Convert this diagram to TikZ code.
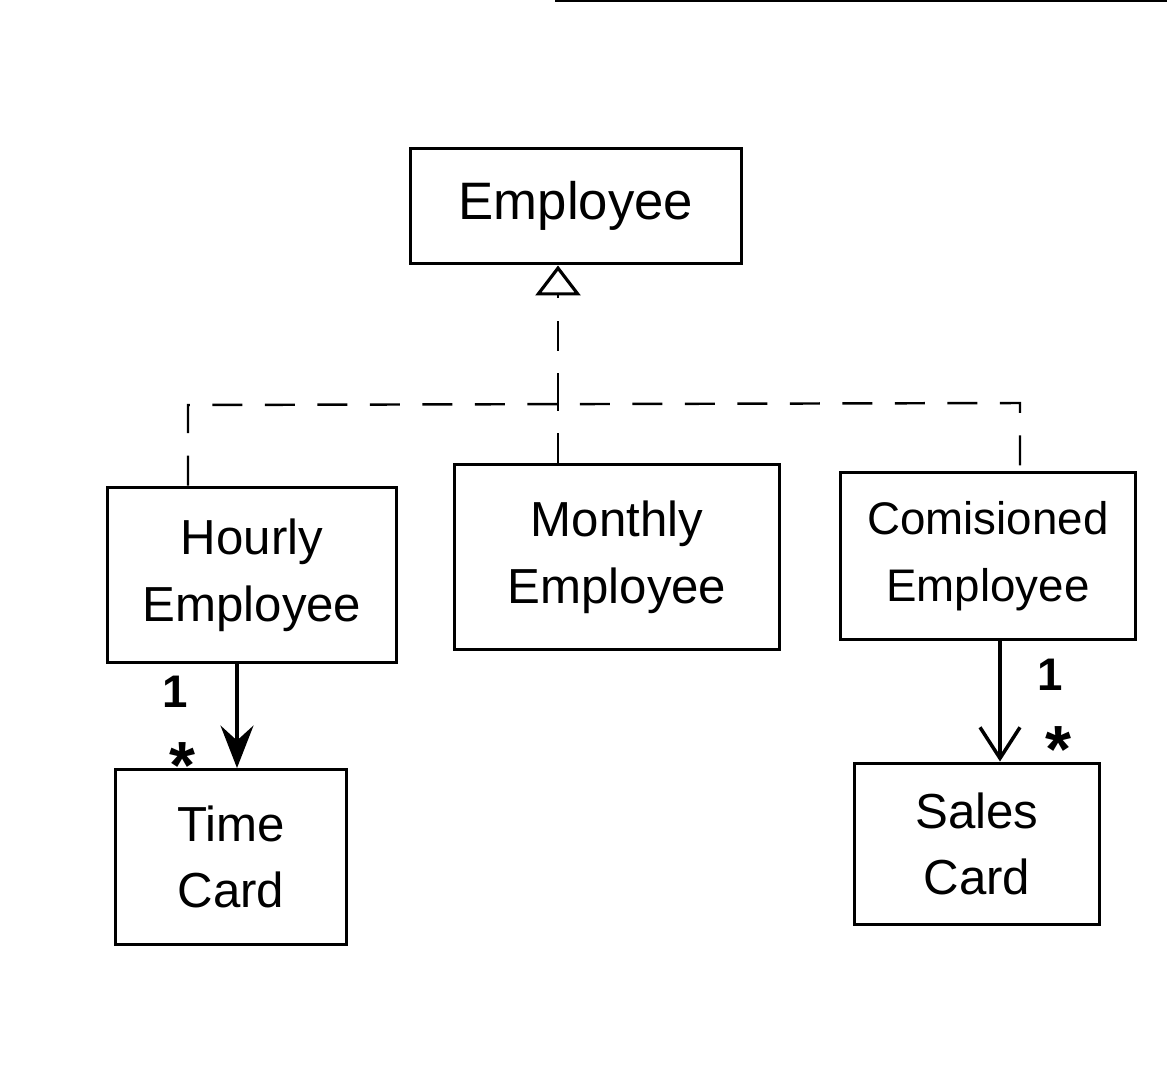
\documentclass[tikz,border=0pt]{standalone}
\usepackage{fontspec}
\setmainfont{Liberation Sans}
\usetikzlibrary{arrows.meta}
\begin{document}
\begin{tikzpicture}[x=0.02cm,y=-0.02cm,
  cls/.style={draw, line width=1.7pt, inner sep=0pt, align=center, font=\fontsize{28}{38}\selectfont},
  gen/.style={line width=1.4pt, dash pattern=on 0.6cm off 0.45cm},
  assoc/.style={line width=1.8pt},
  mult/.style={font=\fontsize{26}{26}\selectfont\bfseries},
  star/.style={font=\fontsize{38}{38}\selectfont\bfseries}
]
\useasboundingbox (0,0) rectangle (1167,1074);
\coordinate (t1) at (555,1);
\coordinate (t2) at (1167,1);
\draw[line width=1.2pt] (t1) -- (t2);

\node[cls, minimum width=6.64cm, minimum height=2.32cm, font=\fontsize{30}{38}\selectfont] (emp) at (576,206) {Employee};
\node[cls, minimum width=5.8cm, minimum height=3.52cm] (hourly) at (252,575) {Hourly\\Employee};
\node[cls, minimum width=6.5cm, minimum height=3.7cm] (monthly) at (617,557) {Monthly\\Employee};
\node[cls, minimum width=5.92cm, minimum height=3.36cm, font=\fontsize{26}{38}\selectfont] (com) at (988,556) {Comisioned\\Employee};
\node[cls, minimum width=4.64cm, minimum height=3.5cm] (time) at (231,857) {Time\\Card};
\node[cls, minimum width=4.9cm, minimum height=3.24cm] (sales) at (977,844) {Sales\\Card};

\coordinate (j) at (558,403);
\coordinate (L) at (188,405);
\coordinate (R) at (1020,403);
\draw[gen] (hourly.north -| L) -- (L) -- (R) -- (com.north -| R);
\draw[gen] (monthly.north -| j) -- (j);
\draw[gen, -{Triangle[open, width=0.9cm, length=0.6cm, line width=1.8pt]}] (j) -- (j |- emp.south);

\coordinate (a1) at (237,0);
\coordinate (a2) at (1000,0);
\draw[assoc, -{Stealth[length=0.85cm, width=0.66cm, inset=0.3cm]}] (hourly.south -| a1) -- (time.north -| a1);
\draw[assoc, -{Straight Barb[length=0.62cm, width=0.8cm, line width=2pt]}] (com.south -| a2) -- (sales.north -| a2);

\node[mult] (m1) at (175,692) {1};
\node[star] (s1) at (182,766) {*};
\node[mult] (m2) at (1050,675) {1};
\node[star] (s2) at (1058,750) {*};
\end{tikzpicture}
\end{document}
